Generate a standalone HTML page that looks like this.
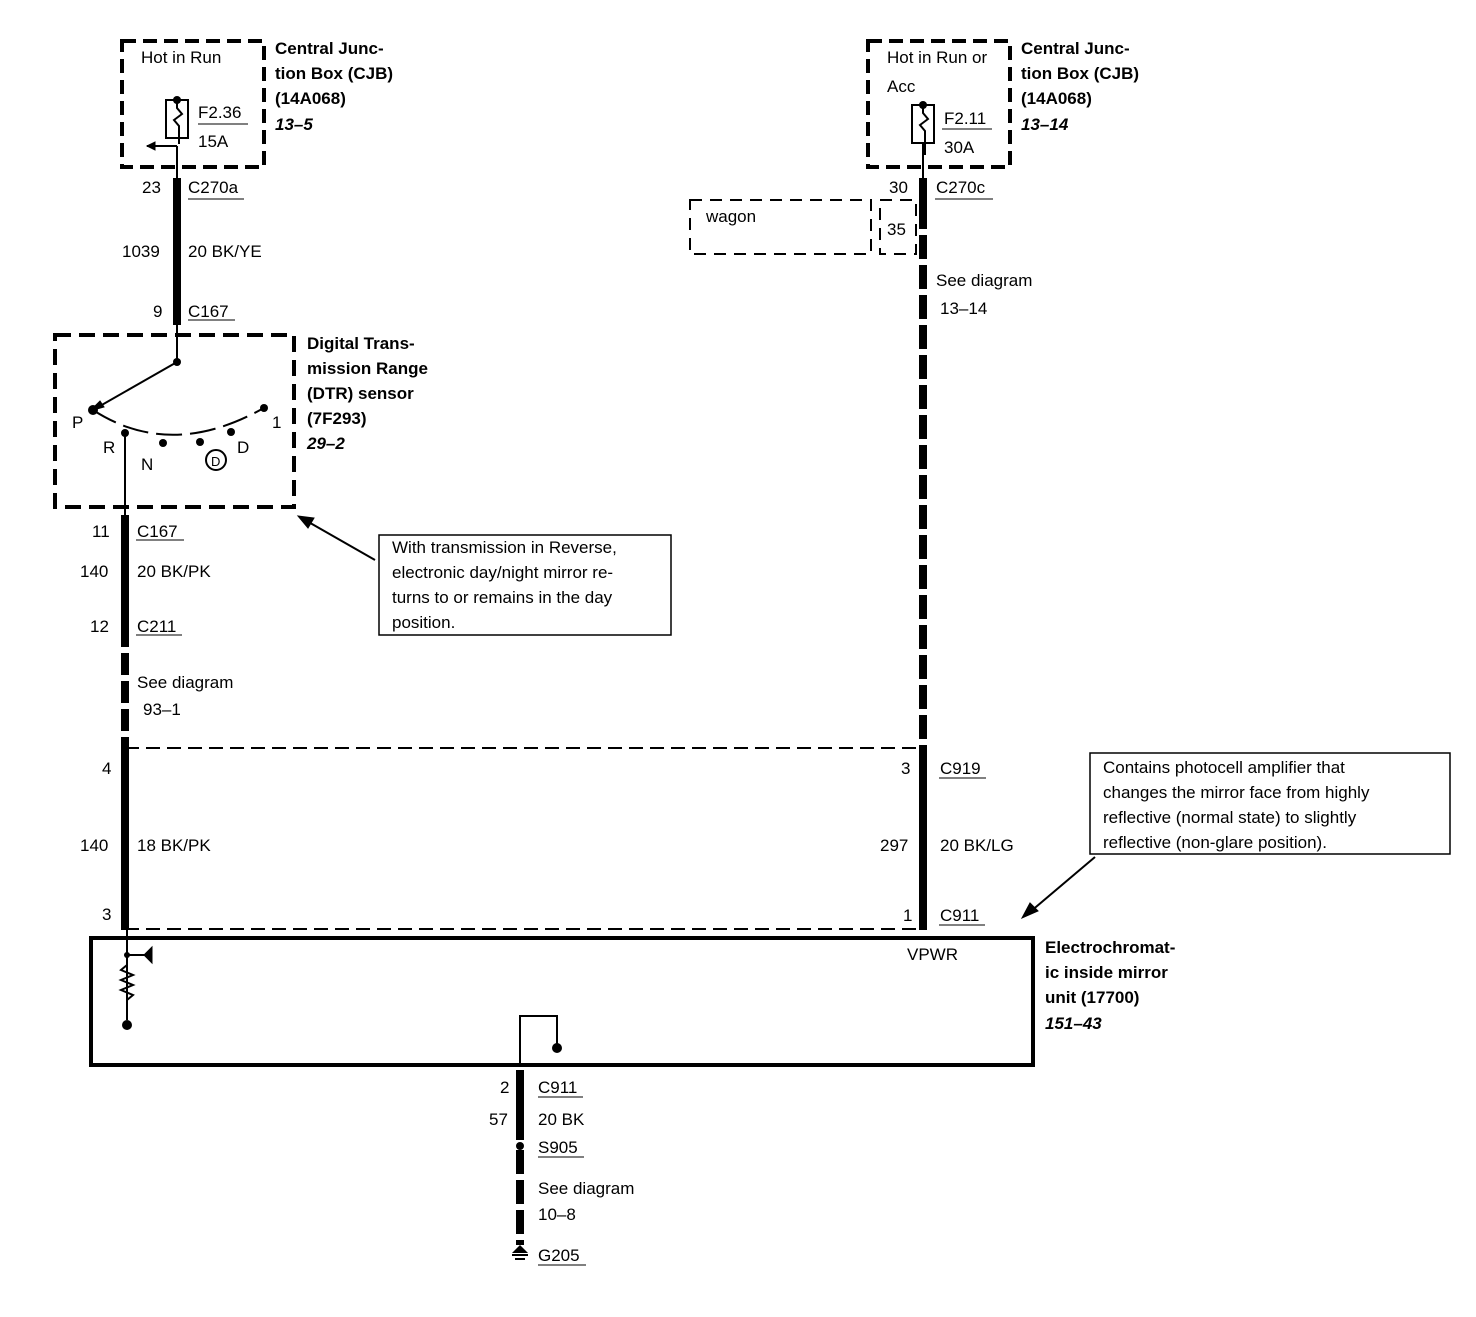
<!DOCTYPE html>
<html><head><style>
body{margin:0;background:#fff}
svg text{font-family:"Liberation Sans",sans-serif;font-size:17px;fill:#000}
.b{font-weight:bold}
.i{font-style:italic;font-weight:bold}
</style></head><body>
<svg width="1476" height="1312" viewBox="0 0 1476 1312" xmlns="http://www.w3.org/2000/svg">
<g fill="none" stroke="#000">
<!-- dashed boxes -->
<rect x="122" y="41" width="142" height="126" stroke-width="4" stroke-dasharray="14,7"/>
<rect x="868" y="41" width="142" height="126" stroke-width="4" stroke-dasharray="14,7"/>
<rect x="55" y="335" width="239" height="172" stroke-width="4" stroke-dasharray="16,8"/>
<rect x="690" y="200" width="181" height="54" stroke-width="2" stroke-dasharray="12,8"/>
<rect x="880" y="200" width="36" height="54" stroke-width="2" stroke-dasharray="12,8"/>
<line x1="125" y1="748" x2="923" y2="748" stroke-width="2" stroke-dasharray="14,7"/>
<line x1="125" y1="929" x2="923" y2="929" stroke-width="2" stroke-dasharray="14,7"/>
<!-- mirror box -->
<rect x="91" y="938" width="942" height="127" stroke-width="4"/>
<!-- notes -->
<rect x="379" y="535" width="292" height="100" stroke-width="1.5"/>
<rect x="1090" y="753" width="360" height="101" stroke-width="1.5"/>
<!-- fuses -->
<rect x="166" y="100" width="22" height="38" stroke-width="2"/>
<path d="M177 100 v8 l5 6 l-8 6 l5 6 v18" stroke-width="2"/>
<line x1="177" y1="146" x2="147" y2="146" stroke-width="2"/>
<path d="M147 146 l8 -4 v8z" fill="#000"/>
<line x1="198" y1="124" x2="248" y2="124" stroke-width="1"/>
<rect x="912" y="105" width="22" height="38" stroke-width="2"/>
<path d="M923 105 v8 l5 6 l-8 6 l5 6 v24" stroke-width="2"/>
<line x1="942" y1="129" x2="992" y2="129" stroke-width="1"/>
<!-- wires -->
<line x1="177" y1="146" x2="177" y2="178" stroke-width="2"/>
<line x1="177" y1="178" x2="177" y2="325" stroke-width="8"/>
<line x1="177" y1="325" x2="177" y2="362" stroke-width="2"/>
<line x1="177" y1="362" x2="93" y2="410" stroke-width="2"/>
<path d="M90 411 l10 -10 l4 6z" fill="#000"/>
<path d="M93 410 Q170 460 262 409" stroke-width="2" stroke-dasharray="26,8"/>
<line x1="125" y1="433" x2="125" y2="515" stroke-width="2"/>
<line x1="125" y1="515" x2="125" y2="625" stroke-width="8"/>
<line x1="125" y1="625" x2="125" y2="748" stroke-width="8" stroke-dasharray="22,6"/>
<line x1="125" y1="748" x2="125" y2="930" stroke-width="8"/>
<line x1="127" y1="930" x2="127" y2="1020" stroke-width="2"/>
<path d="M127 965 l-6 5 l12 5 l-12 5 l12 5 l-12 5 l12 5 l-6 5" stroke-width="2"/>
<line x1="127" y1="955" x2="152" y2="955" stroke-width="2"/>
<path d="M152 947 v16 l-8 -8z" fill="#000"/>
<line x1="923" y1="143" x2="923" y2="178" stroke-width="2"/>
<line x1="923" y1="178" x2="923" y2="205" stroke-width="8"/>
<line x1="923" y1="205" x2="923" y2="748" stroke-width="8" stroke-dasharray="24,6"/>
<line x1="923" y1="748" x2="923" y2="930" stroke-width="8"/>
<path d="M520 1066 V1016 H557 V1045" stroke-width="2"/>
<line x1="520" y1="1070" x2="520" y2="1140" stroke-width="8"/>
<line x1="520" y1="1150" x2="520" y2="1245" stroke-width="8" stroke-dasharray="24,6"/>
<!-- arrows -->
<line x1="375" y1="560" x2="305" y2="520" stroke-width="2"/>
<path d="M298 516 l16 2 l-6 10z" fill="#000"/>
<line x1="1095" y1="857" x2="1030" y2="912" stroke-width="2"/>
<path d="M1022 918 l8 -15 l8 8z" fill="#000"/>
<!-- underlines -->
<g stroke-width="1">
<line x1="188" y1="199" x2="244" y2="199"/><line x1="188" y1="320" x2="235" y2="320"/>
<line x1="136" y1="540" x2="184" y2="540"/><line x1="136" y1="635" x2="182" y2="635"/>
<line x1="935" y1="199" x2="993" y2="199"/><line x1="939" y1="778" x2="986" y2="778"/>
<line x1="939" y1="925" x2="985" y2="925"/><line x1="538" y1="1097" x2="583" y2="1097"/>
<line x1="538" y1="1157" x2="584" y2="1157"/><line x1="538" y1="1265" x2="586" y2="1265"/>
</g>
</g>
<g fill="#000">
<circle cx="177" cy="100" r="4"/><circle cx="923" cy="105" r="4"/>
<circle cx="177" cy="362" r="4"/><circle cx="93" cy="410" r="5"/>
<circle cx="264" cy="408" r="4"/><circle cx="231" cy="432" r="4"/><circle cx="200" cy="442" r="4"/>
<circle cx="163" cy="443" r="4"/><circle cx="125" cy="433" r="4"/>
<circle cx="127" cy="955" r="3"/><circle cx="127" cy="1025" r="5"/><circle cx="557" cy="1048" r="5"/>
<circle cx="520" cy="1146" r="4"/>
<path d="M512 1253 h16 l-8 -8z"/><rect x="512" y="1254" width="16" height="2"/><rect x="515" y="1258" width="10" height="2"/>
</g>
<circle cx="216" cy="460" r="10" fill="none" stroke="#000" stroke-width="2"/>
<text x="211" y="466" style="font-size:13px">D</text>
<text x="141" y="63">Hot in Run</text>
<text x="198" y="118">F2.36</text><text x="198" y="147">15A</text>
<text x="887" y="63">Hot in Run or</text><text x="887" y="92">Acc</text>
<text x="944" y="124">F2.11</text><text x="944" y="153">30A</text>
<g class="b">
<text x="275" y="54">Central Junc-</text><text x="275" y="79">tion Box (CJB)</text><text x="275" y="104">(14A068)</text>
<text x="1021" y="54">Central Junc-</text><text x="1021" y="79">tion Box (CJB)</text><text x="1021" y="104">(14A068)</text>
<text x="307" y="349">Digital Trans-</text><text x="307" y="374">mission Range</text><text x="307" y="399">(DTR) sensor</text><text x="307" y="424">(7F293)</text>
<text x="1045" y="953">Electrochromat-</text><text x="1045" y="978">ic inside mirror</text><text x="1045" y="1003">unit (17700)</text>
</g>
<text class="i" x="275" y="130">13–5</text><text class="i" x="1021" y="130">13–14</text>
<text class="i" x="307" y="449">29–2</text><text class="i" x="1045" y="1029">151–43</text>
<text x="142" y="193">23</text><text x="188" y="193">C270a</text>
<text x="122" y="257">1039</text><text x="188" y="257">20 BK/YE</text>
<text x="153" y="317">9</text><text x="188" y="317">C167</text>
<text x="72" y="428">P</text><text x="103" y="453">R</text><text x="141" y="470">N</text><text x="237" y="453">D</text><text x="272" y="428">1</text>
<text x="92" y="537">11</text><text x="137" y="537">C167</text>
<text x="80" y="577">140</text><text x="137" y="577">20 BK/PK</text>
<text x="90" y="632">12</text><text x="137" y="632">C211</text>
<text x="137" y="688">See diagram</text><text x="143" y="715">93–1</text>
<text x="102" y="774">4</text>
<text x="80" y="851">140</text><text x="137" y="851">18 BK/PK</text>
<text x="102" y="920">3</text>
<text x="392" y="553">With transmission in Reverse,</text>
<text x="392" y="578">electronic day/night mirror re-</text>
<text x="392" y="603">turns to or remains in the day</text>
<text x="392" y="628">position.</text>
<text x="706" y="222">wagon</text><text x="887" y="235">35</text>
<text x="889" y="193">30</text><text x="936" y="193">C270c</text>
<text x="936" y="286">See diagram</text><text x="940" y="314">13–14</text>
<text x="901" y="774">3</text><text x="940" y="774">C919</text>
<text x="880" y="851">297</text><text x="940" y="851">20 BK/LG</text>
<text x="903" y="921">1</text><text x="940" y="921">C911</text>
<text x="907" y="960">VPWR</text>
<text x="1103" y="773">Contains photocell amplifier that</text>
<text x="1103" y="798">changes the mirror face from highly</text>
<text x="1103" y="823">reflective (normal state) to slightly</text>
<text x="1103" y="848">reflective (non-glare position).</text>
<text x="500" y="1093">2</text><text x="538" y="1093">C911</text>
<text x="489" y="1125">57</text><text x="538" y="1125">20 BK</text>
<text x="538" y="1153">S905</text>
<text x="538" y="1194">See diagram</text><text x="538" y="1220">10–8</text>
<text x="538" y="1261">G205</text>
</svg>
</body></html>
